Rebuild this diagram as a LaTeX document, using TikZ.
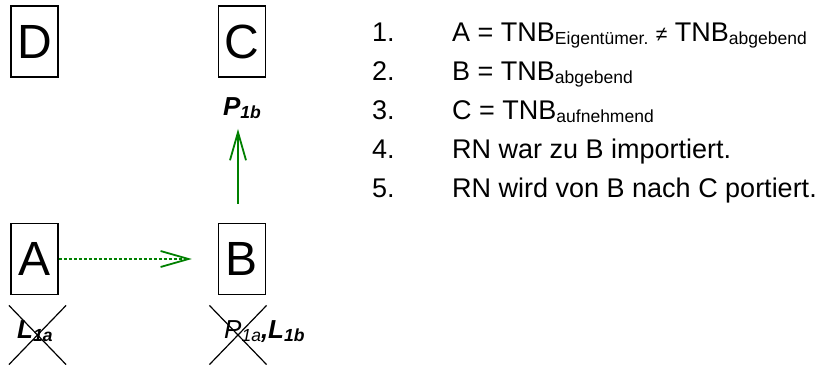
\documentclass[tikz,border=0pt]{standalone}
\usepackage{fontspec}
\setmainfont{Liberation Sans}
\usetikzlibrary{arrows.meta,shapes.misc}
\definecolor{arrgreen}{RGB}{0,128,0}
\newcommand{\sbx}[1]{\raisebox{-3.5pt}{\fontsize{17.5}{17.5}\selectfont #1}}
\begin{document}
\begin{tikzpicture}[x=1pt,y=-1pt,
 letterbox/.style={draw, line width=1.3pt, minimum width=47pt, minimum height=71pt, inner sep=0pt, font=\fontsize{48}{48}\selectfont},
 xmark/.style={cross out, draw, line width=1.2pt, minimum width=56pt, minimum height=58pt, inner sep=0pt},
 lbl/.style={font=\fontsize{26}{26}\selectfont\bfseries\itshape, inner sep=0pt},
 num/.style={anchor=base west, font=\fontsize{27}{30}\selectfont, inner sep=0pt},
 garrow/.style={draw=arrgreen, line width=1.8pt, -{Straight Barb[length=28pt,width=16pt,line width=1.8pt]}}
]
\useasboundingbox (0,0) rectangle (821,364);
\node[letterbox] (D) at (34.5,41.5) {D};
\node[letterbox] (C) at (242,41.5) {C};
\node[letterbox] (A) at (34.5,259) {A};
\node[letterbox] (B) at (242,259) {B};
\node[lbl] (P1b) at (242,108) {P\sbx{1b}};
\node[xmark] (XA) at (37.5,335) {};
\node[xmark] (XB) at (238,335) {};
\node[lbl, anchor=base west] (LA) at (17,338) {L\sbx{1a}};
\node[lbl, anchor=base west] (LB) at (224,338) {{\mdseries P\sbx{1a}},L\sbx{1b}};
\draw[garrow, dash pattern=on 3pt off 2pt, shorten >=26pt] (A.east) -- (B.west);
\draw[garrow, shorten <=19pt, shorten >=10pt] ([xshift=-4pt]B.north) -- ([xshift=-4pt]P1b.south);
\node[num] (n1) at (372,41) {1.};
\node[num] (n2) at (372,80) {2.};
\node[num] (n3) at (372,119) {3.};
\node[num] (n4) at (372,158) {4.};
\node[num] (n5) at (372,197) {5.};
\node[num] (t1) at (452,41) {A = TNB\sbx{Eigentümer.} {\fontsize{21}{21}\selectfont ≠} TNB\sbx{abgebend}};
\node[num] (t2) at (452,80) {B = TNB\sbx{abgebend}};
\node[num] (t3) at (452,119) {C = TNB\sbx{aufnehmend}};
\node[num] (t4) at (452,158) {RN war zu B importiert.};
\node[num] (t5) at (452,197) {RN wird von B nach C portiert.};
\end{tikzpicture}
\end{document}
